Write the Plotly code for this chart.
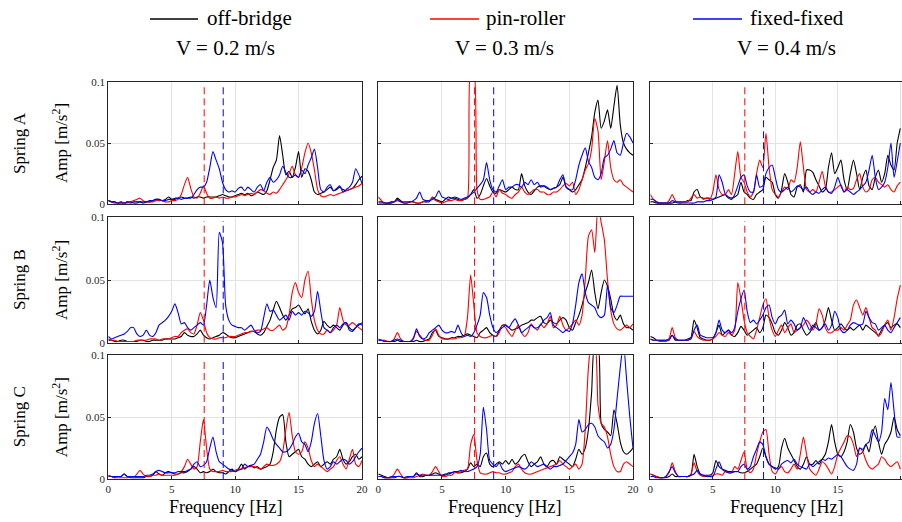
import plotly.graph_objects as go

# ---------------- data (amplitudes in 1e-3 m/s^2, frequency step 0.25 Hz) ----------------
freq = [i * 0.25 for i in range(81)]  # 0 ... 20 Hz

# Spring A, V = 0.2 m/s
A02_off = [3,2,2,1, 2,1,2,1, 2,2,2,1, 2,2,3,4, 4,3,4,6,
           4,5,5,6, 5,5,6,5, 6,6,5,6, 6,6,6,7, 8,7,6,6,
           7,8,9,8, 9,7,8,10, 9,8,11,20, 30,36,56,40, 24,27,22,30,
           43,22,29,27, 20,10,8,9, 10,12,14,11, 12,14,12,11, 12,13,16,20, 23]
A02_pin = [3,2,1,1, 2,1,1,2, 3,4,5,3, 2,2,2,3, 3,3,2,2,
           3,3,4,8, 16,22,13,6, 5,9,15,9, 5,5,6,5, 6,5,5,6,
           6,7,8,7, 8,9,8,10, 12,11,9,8, 10,9,12,16, 20,25,31,24,
           22,30,42,50, 42,28,12,7, 6,7,8,7, 8,9,10,11, 12,13,14,15, 17]
A02_fix = [3,2,2,1, 1,1,2,2, 1,1,2,2, 2,3,3,4, 4,3,3,4,
           4,4,5,4, 5,5,5,8, 12,14,14,18, 30,43,36,29, 18,12,10,11,
           10,13,14,11, 14,12,10,14, 16,11,18,22, 18,20,24,31, 26,22,22,24,
           22,28,25,32, 38,45,30,12, 10,14,16,11, 13,15,10,12, 14,18,29,24, 17]

# Spring A, V = 0.3 m/s
A03_off = [2,2,1,1, 2,2,5,3, 1,1,2,2, 1,1,2,2, 2,6,4,3,
           2,4,6,5, 5,4,3,4, 5,8,12,5, 8,15,21,15, 10,9,12,11,
           10,12,14,12, 12,25,15,10, 8,11,14,15, 15,13,12,13, 14,16,22,14,
           12,10,12,16, 20,30,42,55, 75,85,62,68, 77,62,80,97, 65,50,45,42, 40]
A03_pin = [6,3,1,1, 1,2,3,2, 1,1,2,2, 1,1,2,3, 3,5,3,2,
           1,2,3,3, 4,3,3,4, 5,110,110,12, 4,4,5,6, 10,6,12,9,
           8,6,5,8, 10,14,10,8, 10,12,12,10, 10,8,8,10, 10,12,15,17,
           15,18,8,12, 20,28,33,45, 70,60,20,35, 52,30,20,18, 20,16,14,12, 10]
A03_fix = [1,1,1,1, 1,2,4,2, 2,2,2,3, 5,10,4,3, 3,4,6,11,
           6,5,4,5, 6,5,4,5, 6,8,10,13, 16,20,34,20, 12,10,15,20,
           12,14,14,16, 16,14,18,16, 20,16,18,14, 15,14,12,13, 14,20,24,14,
           12,12,20,32, 40,46,35,30, 22,20,25,38, 40,45,52,42, 40,50,58,55, 50]

# Spring A, V = 0.4 m/s
A04_off = [2,2,1,1, 1,1,1,1, 2,2,2,2, 3,3,10,12, 6,5,5,5,
           4,5,6,7, 8,6,5,6, 8,18,10,8, 5,4,8,10, 12,22,20,18,
           8,5,12,25, 18,8,6,14, 16,10,28,28, 26,20,15,10, 12,30,42,25,
           30,36,20,12, 25,36,25,12, 22,28,15,12, 22,28,18,25, 40,32,28,50, 62]
A04_pin = [8,4,2,1, 1,1,3,8, 3,2,2,2, 2,5,8,5, 6,4,5,4,
           10,24,12,8, 8,12,8,25, 43,22,18,10, 6,10,25,36, 30,58,30,12,
           8,6,10,14, 12,20,18,30, 51,30,12,10, 12,10,18,27, 15,10,10,12,
           14,16,10,14, 12,13,20,25, 14,10,12,20, 22,18,16,14, 16,12,10,15, 18]
A04_fix = [4,4,2,1, 1,1,1,3, 2,1,1,1, 1,1,1,2, 2,2,3,3,
           4,6,24,18, 8,5,4,8, 15,22,24,15, 10,10,24,14, 15,25,30,32,
           22,12,10,12, 14,10,12,15, 14,12,14,10, 8,10,9,12, 14,10,9,14,
           22,15,10,12, 10,8,10,12, 15,18,28,40, 22,12,14,18, 30,50,22,35, 50]

# Spring B, V = 0.2 m/s
B02_off = [2,2,1,1, 2,2,1,1, 1,1,2,2, 1,1,2,2, 2,2,3,3,
           3,3,4,5, 8,6,5,5, 7,10,6,4, 3,4,5,6, 8,7,5,4,
           4,5,6,7, 8,9,9,7, 6,8,13,18, 26,33,28,22, 18,22,27,28,
           30,26,23,27, 17,10,7,10, 17,14,12,14, 12,10,14,16, 12,10,12,14, 16]
B02_pin = [3,2,2,1, 1,1,1,1, 1,2,2,2, 2,3,3,3, 2,3,3,3,
           4,5,5,8, 10,11,8,7, 14,24,18,8, 4,3,3,4, 4,4,5,5,
           5,6,7,8, 8,9,9,10, 10,11,12,10, 10,12,14,10, 12,22,40,48,
           40,36,50,57, 35,18,10,7, 7,10,8,10, 14,28,18,14, 14,16,14,12, 10]
B02_fix = [5,3,4,5, 6,7,9,12, 12,7,5,6, 10,6,5,8, 14,16,18,21,
           25,31,24,15, 16,12,10,12, 14,16,14,30, 50,36,28,88, 80,30,18,14,
           13,12,12,10, 12,14,10,8, 9,20,31,25, 26,22,18,20, 22,18,25,22,
           24,22,25,24, 21,25,41,25, 12,10,8,12, 14,12,15,16, 10,9,12,15, 14]

# Spring B, V = 0.3 m/s
B03_off = [2,2,1,1, 1,1,2,1, 1,1,1,1, 2,1,1,2, 3,8,10,5,
           4,3,3,4, 4,5,5,6, 7,6,5,4, 8,10,12,8, 6,5,10,14,
           14,12,10,11, 12,14,15,16, 18,18,20,21, 16,15,18,16, 15,18,20,18,
           12,10,16,22, 30,40,48,58, 40,27,40,50, 45,35,22,18, 22,15,12,12, 10]
B03_pin = [3,2,2,1, 1,3,8,3, 1,1,1,4, 9,6,3,2, 2,6,11,6,
           3,3,3,3, 3,4,4,5, 20,54,30,8, 5,4,4,5, 6,5,8,14,
           12,8,5,10, 14,8,5,8, 15,12,10,15, 12,15,21,12, 14,21,14,10,
           12,15,18,14, 22,50,85,90, 72,110,96,82, 50,26,15,11, 10,12,14,12, 15]
B03_fix = [2,2,1,1, 1,2,3,2, 1,1,1,3, 11,5,3,4, 8,10,12,14,
           10,8,8,9, 8,14,8,5, 6,5,8,14, 22,40,36,22, 12,8,10,12,
           14,12,16,19, 14,8,10,12, 14,12,12,14, 18,20,24,14, 12,10,8,10,
           9,15,30,48, 55,40,32,30, 28,22,20,22, 46,28,24,30, 37,37,37,37, 37]

# Spring B, V = 0.4 m/s
B04_off = [5,4,2,2, 2,2,3,6, 2,2,2,2, 3,4,18,12, 4,3,2,2,
           3,8,14,6, 8,10,6,5, 8,13,10,6, 8,10,12,8, 12,22,20,15,
           8,6,10,16, 12,6,8,14, 15,10,6,8, 12,16,10,12, 18,28,18,10,
           12,15,12,10, 12,10,12,14, 10,14,12,10, 8,6,10,14, 16,12,14,15, 12]
B04_pin = [3,2,2,1, 1,1,3,12, 4,2,2,2, 2,3,9,5, 3,2,2,2,
           3,5,8,6, 5,8,6,10, 48,35,18,8, 5,3,10,20, 30,35,20,10,
           5,10,14,8, 12,15,8,10, 12,14,18,15, 10,15,27,22, 12,8,8,10,
           10,12,10,14, 18,30,34,28, 22,28,20,12, 10,5,8,14, 18,10,20,35, 46]
B04_fix = [3,2,2,2, 2,2,2,6, 3,2,2,2, 2,3,10,14, 6,5,4,4,
           4,8,18,10, 8,10,8,12, 25,35,42,25, 16,18,15,18, 22,28,30,20,
           15,20,22,26, 15,18,15,10, 12,20,15,10, 14,12,10,12, 15,10,14,25,
           20,10,8,10, 14,16,15,14, 15,25,20,16, 15,10,12,14, 10,8,12,16, 20]

# Spring C, V = 0.2 m/s
C02_off = [2,2,1,2, 2,4,2,1, 1,1,1,1, 2,2,3,6, 4,3,5,6,
           5,4,4,5, 5,6,8,10, 8,5,6,5, 6,8,6,5, 5,4,6,8,
           6,8,12,8, 10,11,9,10, 8,9,10,12, 22,40,50,52, 30,18,20,22,
           24,18,16,12, 10,12,14,10, 12,14,12,16, 18,24,16,12, 14,18,20,16, 18]
C02_pin = [2,2,1,1, 1,1,1,2, 1,4,7,4, 2,2,3,3, 4,3,3,3,
           3,3,4,6, 10,16,12,8, 10,30,48,25, 8,6,6,6, 7,6,6,6,
           7,8,8,9, 10,10,10,9, 8,10,12,11, 11,12,14,22, 40,54,35,22,
           20,22,30,25, 15,10,12,10, 8,6,8,10, 15,18,12,8, 16,24,12,10, 15]
C02_fix = [3,2,2,2, 2,4,2,2, 2,2,2,2, 3,3,4,6, 7,6,5,5,
           5,5,6,6, 6,7,8,12, 14,10,11,14, 25,34,22,14, 12,10,8,7,
           6,7,8,12, 10,11,12,16, 20,30,42,38, 32,28,25,22, 22,24,28,34,
           37,30,28,22, 30,45,53,35, 15,8,10,14, 12,14,16,15, 12,14,18,22, 25]

# Spring C, V = 0.3 m/s
C03_off = [4,3,2,1, 1,1,2,2, 1,1,2,2, 5,2,2,3, 3,4,5,4,
           3,4,4,5, 6,5,5,6, 8,13,10,12, 10,18,21,12, 10,12,14,12,
           15,12,16,12, 14,18,20,14, 10,12,14,18, 12,10,14,15, 12,18,16,14,
           12,10,16,24, 20,25,40,70, 110,110,45,40, 38,35,56,45, 30,22,20,22, 25]
C03_pin = [2,2,1,1, 1,4,8,4, 1,1,1,1, 2,3,4,3, 3,6,10,6,
           2,2,3,3, 5,5,6,7, 8,28,36,15, 5,4,4,5, 6,5,5,4,
           4,5,6,10, 12,8,5,4, 4,5,6,7, 8,9,10,11, 12,15,12,10,
           8,10,12,8, 12,40,90,110, 110,60,45,42, 34,20,10,6, 6,12,14,12, 10]
C03_fix = [2,2,1,1, 2,2,2,2, 1,2,2,2, 4,3,3,3, 3,3,3,3,
           3,3,5,5, 6,6,7,6, 6,7,8,10, 20,58,40,15, 12,10,13,8,
           6,7,8,9, 10,9,8,10, 14,12,10,11, 12,10,8,10, 10,11,12,15,
           18,21,28,48, 38,40,44,45, 42,35,32,30, 25,28,40,65, 90,110,80,50, 25]

# Spring C, V = 0.4 m/s
C04_off = [4,3,2,1, 1,1,2,4, 2,2,2,2, 2,3,20,10, 4,3,3,3,
           5,15,10,8, 7,6,6,6, 6,5,5,6, 8,10,12,18, 25,18,12,10,
           8,10,25,33, 25,20,15,10, 8,12,18,12, 12,15,12,16, 20,30,44,30,
           20,18,22,30, 44,38,25,20, 22,28,22,35, 43,30,20,28, 32,38,50,40, 35]
C04_pin = [4,3,2,1, 1,2,5,13, 6,2,2,2, 2,4,13,6, 3,2,2,3,
           3,4,4,3, 6,5,5,10, 8,15,22,8, 5,8,20,30, 38,40,20,6,
           4,8,10,6, 5,8,12,8, 20,34,20,8, 5,3,8,14, 12,8,4,10,
           20,25,30,35, 34,28,18,25, 22,15,10,8, 10,12,18,16, 12,10,12,14, 8]
C04_fix = [2,2,1,1, 1,2,6,10, 5,2,2,2, 2,3,4,7, 4,3,2,2,
           2,8,14,8, 6,5,5,6, 6,10,12,8, 10,18,24,30, 28,18,12,10,
           9,8,12,14, 15,13,16,12, 10,9,8,12, 10,12,14,16, 15,17,16,18,
           20,18,14,10, 8,7,12,25, 24,28,30,40, 35,30,38,65, 56,78,55,34, 34]

springs = ["Spring A", "Spring B", "Spring C"]
speeds = ["V = 0.2 m/s", "V = 0.3 m/s", "V = 0.4 m/s"]
series_names = ["off-bridge", "pin-roller", "fixed-fixed"]
series_colors = ["#000000", "#ff0000", "#0000ff"]
grid_data = [
    [(A02_off, A02_pin, A02_fix), (A03_off, A03_pin, A03_fix), (A04_off, A04_pin, A04_fix)],
    [(B02_off, B02_pin, B02_fix), (B03_off, B03_pin, B03_fix), (B04_off, B04_pin, B04_fix)],
    [(C02_off, C02_pin, C02_fix), (C03_off, C03_pin, C03_fix), (C04_off, C04_pin, C04_fix)],
]
pin_roller_freq = 7.56   # red dashed marker (Hz)
fixed_fixed_freq = 9.06  # blue dashed marker (Hz)
x_ticks = [0, 5, 10, 15, 20]
y_ticks = [0, 0.05, 0.1]
y_ticktext = ["0", "0.05", "0.1"]

# ---------------- layout geometry (pixels) ----------------
W, H = 902, 522
col_px = [(108.3, 362.0), (378.3, 633.0), (650.3, 902.0)]
row_px = [(81.7, 204.3), (217.3, 342.7), (355.3, 479.0)]
FONT = "Liberation Serif"
AXC = "#262626"

fig = go.Figure()
layout = dict(
    width=W, height=H, margin=dict(l=0, r=0, t=0, b=0, pad=0),
    paper_bgcolor="white", plot_bgcolor="white", showlegend=False,
    font=dict(family=FONT, color="black", size=12),
)

for r in range(3):
    for c in range(3):
        n = r * 3 + c + 1
        xa = "x" if n == 1 else f"x{n}"
        ya = "y" if n == 1 else f"y{n}"
        for vals, name, col in zip(grid_data[r][c], series_names, series_colors):
            fig.add_trace(go.Scatter(
                x=freq, y=[v / 1000 for v in vals], mode="lines", name=name,
                line=dict(color=col, width=1.1, shape="spline", smoothing=0.6),
                xaxis=xa, yaxis=ya, hoverinfo="skip"))
        for fx, col in ((pin_roller_freq, "#ff0000"), (fixed_fixed_freq, "#0000ff")):
            fig.add_trace(go.Scatter(
                x=[fx, fx], y=[0, 0.097], mode="lines",
                line=dict(color=col, width=1, dash="7px,4px"),
                xaxis=xa, yaxis=ya, hoverinfo="skip"))
        x0, x1 = col_px[c]
        y0, y1 = row_px[r]
        axis_common = dict(
            showline=True, mirror=True, linecolor=AXC, linewidth=1,
            showgrid=True, gridcolor="#e3e3e3", gridwidth=1, zeroline=False,
            ticks="inside", ticklen=3, tickcolor=AXC,
            tickfont=dict(family=FONT, size=11, color=AXC), automargin=False,
        )
        layout[("xaxis" if n == 1 else f"xaxis{n}")] = dict(
            axis_common, domain=[x0 / W, x1 / W], range=[0, 20 * 253.4 / (x1 - x0)] if c == 2 else [0, 20],
            tickvals=x_ticks, showticklabels=(r == 2), anchor=ya)
        layout[("yaxis" if n == 1 else f"yaxis{n}")] = dict(
            axis_common, domain=[1 - y1 / H, 1 - y0 / H], range=[0, 0.1],
            tickvals=y_ticks, ticktext=y_ticktext, showticklabels=(c == 0), anchor=xa)

annotations = []
shapes = []
# legend-style header
legend_pos = [(150, 198, 205), (430, 479, 484), (693, 742, 748)]
for (lx0, lx1, tx), name, col in zip(legend_pos, series_names, series_colors):
    shapes.append(dict(type="line", xref="paper", yref="paper",
                       x0=lx0 / W, x1=lx1 / W, y0=1 - 19 / H, y1=1 - 19 / H,
                       line=dict(color=col, width=1.5)))
    annotations.append(dict(text=name, x=tx / W, y=1 - 18 / H, xref="paper", yref="paper",
                            xanchor="left", yanchor="middle", showarrow=False,
                            font=dict(family=FONT, size=21, color="black")))
title_x = [225, 505, 786]
for tx, s in zip(title_x, speeds):
    annotations.append(dict(text=s, x=tx / W, y=1 - 48 / H, xref="paper", yref="paper",
                            xanchor="center", yanchor="middle", showarrow=False,
                            font=dict(family=FONT, size=21, color="black")))
    annotations.append(dict(text="Frequency [Hz]", x=tx / W, y=1 - 507 / H, xref="paper", yref="paper",
                            xanchor="center", yanchor="middle", showarrow=False,
                            font=dict(family=FONT, size=18, color="black")))
for (y0, y1), sp in zip(row_px, springs):
    yc = 1 - (y0 + y1) / 2 / H
    annotations.append(dict(text="Amp [m/s<sup>2</sup>]", x=60 / W, y=yc, xref="paper", yref="paper",
                            xanchor="center", yanchor="middle", textangle=-90, showarrow=False,
                            font=dict(family=FONT, size=17, color="black")))
    annotations.append(dict(text=sp, x=19 / W, y=yc, xref="paper", yref="paper",
                            xanchor="center", yanchor="middle", textangle=-90, showarrow=False,
                            font=dict(family=FONT, size=17, color="black")))

layout["annotations"] = annotations
layout["shapes"] = shapes
fig.update_layout(**layout)
fig.write_html("out.html", config={"displayModeBar": False, "staticPlot": True},
               post_script="document.body.style.margin='0';document.body.style.overflow='hidden';")
